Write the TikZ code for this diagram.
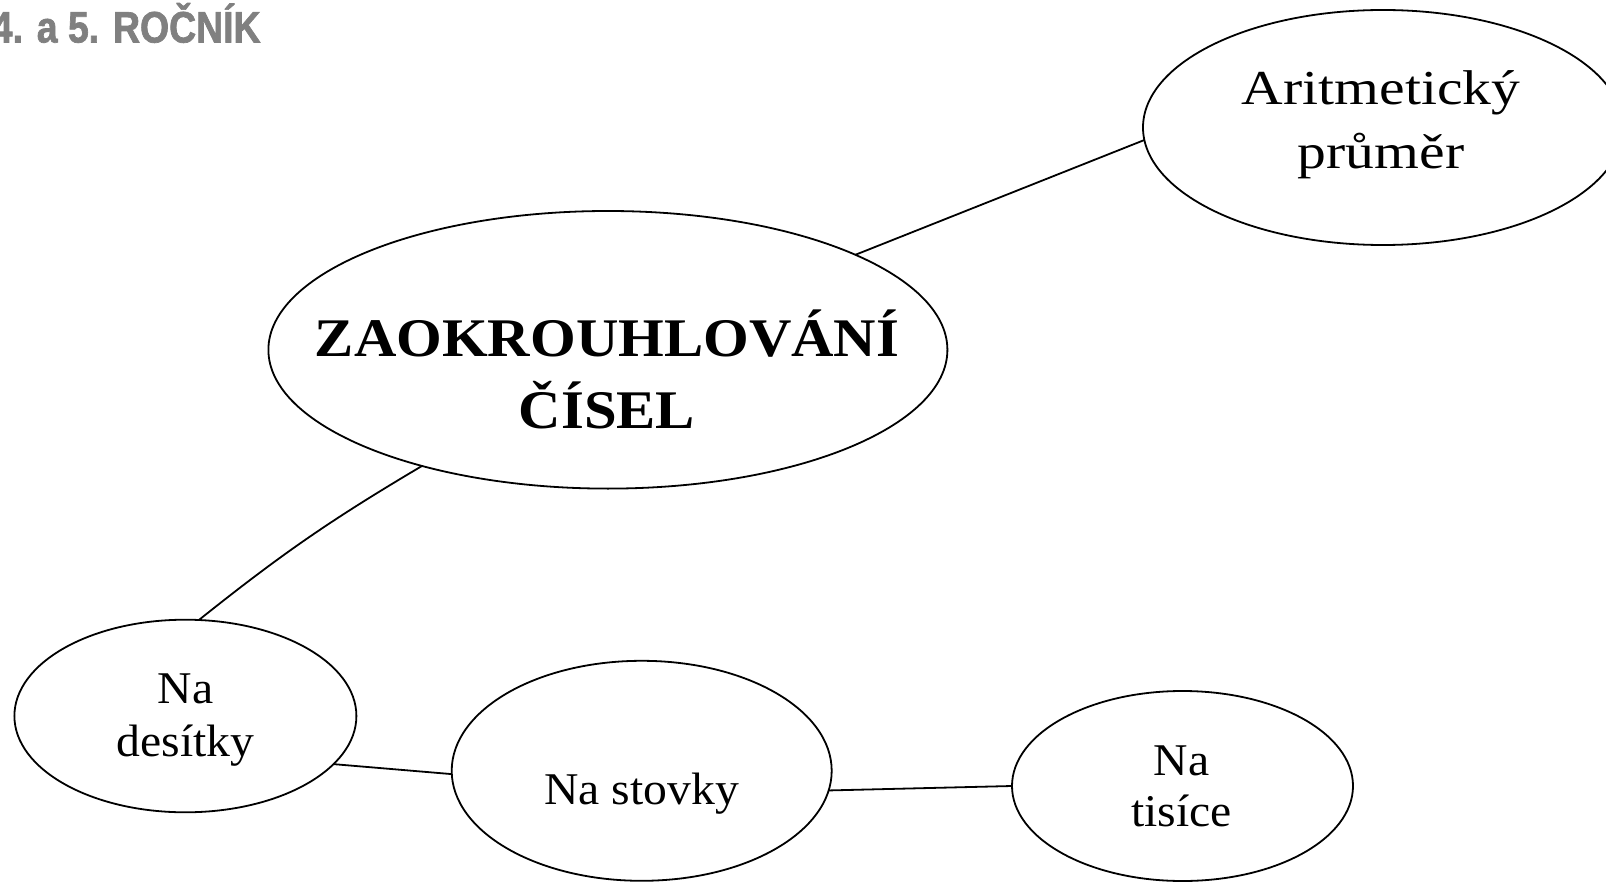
\documentclass[tikz,border=0pt]{standalone}
\usepackage{fontspec}
\setmainfont{Liberation Serif}
\newfontfamily\bigbf[FakeStretch=1.08]{Liberation Serif}
\newfontfamily\aritf[FakeStretch=1.18]{Liberation Serif}
\newfontfamily\smallf[FakeStretch=1.05]{Liberation Serif}
\newfontfamily\titlef[FakeStretch=0.85,BoldFeatures={FakeBold=1.6}]{Liberation Sans}
\definecolor{titlegray}{HTML}{808080}
\tikzset{
  bubble/.style={draw, ellipse, line width=0.9pt, inner sep=0pt, outer sep=0pt},
  link/.style={line width=0.9pt},
  txt/.style={anchor=base, inner sep=0pt, outer sep=0pt},
  bigtxt/.style={txt, font=\fontsize{27.2}{30}\bigbf\bfseries},
  arittxt/.style={txt, font=\fontsize{24.4}{28}\aritf},
  smalltxt/.style={txt, font=\fontsize{22.7}{26}\smallf}
}
\usetikzlibrary{shapes.geometric}
\begin{document}
\begin{tikzpicture}[x=0.5pt, y=-0.5pt]
\useasboundingbox (0,0) rectangle (1606,882);
\clip (0,0) rectangle (1606,882);
% ellipses
\node[bubble, minimum width=240pt, minimum height=117.5pt] (arit) at (1383,127.5) {};
\node[bubble, minimum width=339.5pt, minimum height=138.8pt] (main) at (607.9,349.8) {};
\node[bubble, minimum width=171pt, minimum height=96.3pt] (des) at (185.4,716) {};
\node[bubble, minimum width=190pt, minimum height=110pt] (sto) at (641.7,770.8) {};
\node[bubble, minimum width=170.5pt, minimum height=95pt] (tis) at (1182.5,786) {};
% connectors
\draw[link] (main.21.2) -- (arit.183.8);
\draw[link] (main.212.65) to[bend right=4] (des.82.5);
\draw[link] (des.-18.95) -- (sto.181.3);
\draw[link] (sto.-6.07) -- (tis.180.5);
% texts
\node[bigtxt] (mainA) at (607,356.7) {ZAOKROUHLOVÁNÍ};
\node[bigtxt] (mainB) at (607,428.3) {ČÍSEL};
\node[arittxt] (aritA) at (1381,105) {Aritmetický};
\node[arittxt] (aritB) at (1381,168.3) {průměr};
\node[smalltxt] (desA) at (185.5,703.3) {Na};
\node[smalltxt] (desB) at (185.5,756) {desítky};
\node[smalltxt] (stoA) at (641.7,804) {Na stovky};
\node[smalltxt] (tisA) at (1181.7,775) {Na};
\node[smalltxt] (tisB) at (1181.7,826.7) {tisíce};
\node[anchor=base east, inner sep=0pt, text=titlegray, font=\fontsize{22}{24}\titlef\bfseries] (title) at (261,42.5) {4. a 5. ROČNÍK};
\end{tikzpicture}
\end{document}
